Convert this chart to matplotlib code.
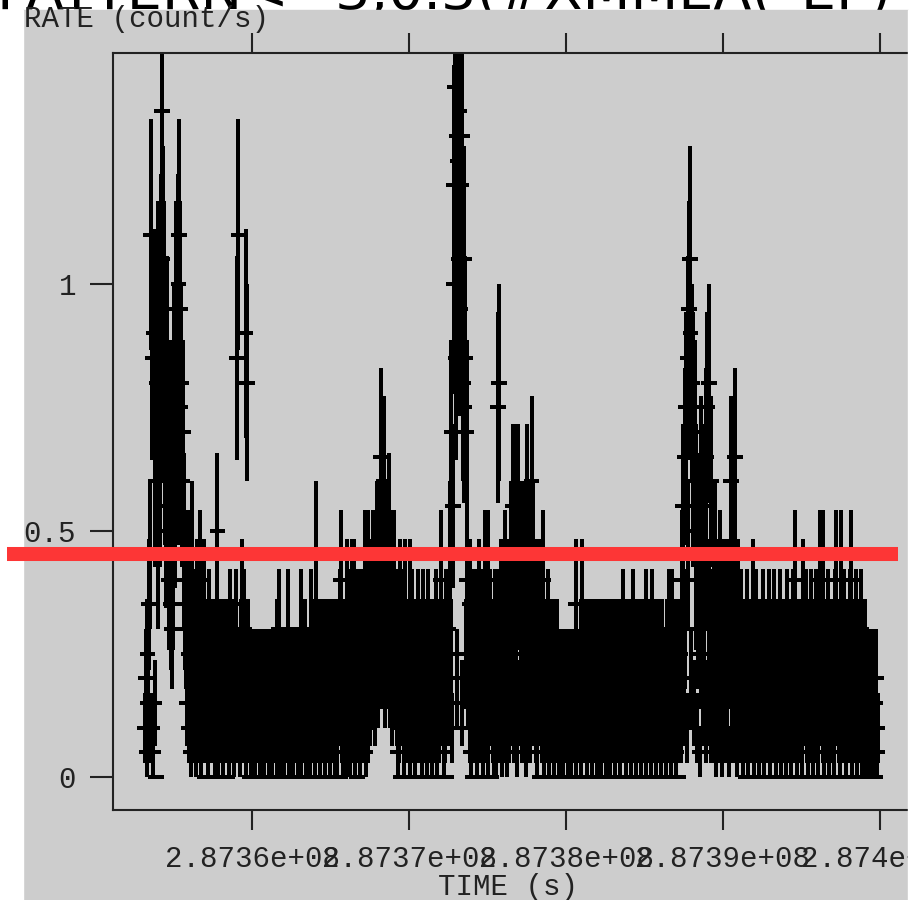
import numpy as np
import matplotlib
matplotlib.use("Agg")
import matplotlib.pyplot as plt
from matplotlib.patches import Rectangle
from matplotlib.lines import Line2D
from matplotlib.ticker import FixedLocator, FuncFormatter

# light curve: counts per 20 s frame, one entry per plotted bin (46 s apart)
t_first = 287353200.0      # s, centre of the first bin
t_step = 46.0              # s between plotted bins
half_width = 500.0         # s, horizontal bar half-length
frame_time = 20.0          # s, so one count = 0.05 count/s

flare_a = [2, 4, 1, 5, 3, 7, 2, 9, 22, 2, 17, 1, 18, 3, 12, 0,
           16, 9, 19, 14, 17, 12, 20, 27, 21, 16, 19, 13, 15, 10, 17, 12,
           11, 8, 14, 7, 9, 6, 12, 8, 16, 11, 19, 14, 17, 13, 20, 22,
           19, 15, 16, 12, 14, 9, 10, 7, 8]
quiet_a = [6, 3, 7, 2, 5, 8, 1, 4, 9, 3, 6, 2, 5, 1, 7, 4,
           2, 5, 3, 8, 1, 4, 6, 2, 7, 3, 0, 5, 2, 4, 1, 6,
           3, 5, 2, 4, 0, 3, 5, 1, 4, 2, 5, 10, 1, 3, 4, 0,
           5, 2, 4, 1, 3, 5, 2, 4, 0, 3, 5, 1, 4, 6, 2, 3]
flare_b = [2, 5, 1, 4, 3, 6, 17, 2, 22, 4, 1, 5, 3, 7, 2, 4,
           6, 3, 18, 1, 16, 5, 2, 4, 0]
quiet_b = [1, 4, 2, 3, 0, 4, 1, 3, 2, 4, 0, 2, 4, 1, 3, 2,
           4, 0, 3, 1, 4, 2, 0, 3, 4, 1, 2, 4, 0, 3, 1, 4,
           2, 3, 0, 4, 1, 5, 2, 6, 1, 3, 4, 0, 2, 4, 1, 3,
           0, 4, 2, 5, 6, 1, 3, 4, 0, 2, 4, 1, 3, 0, 4, 2,
           3, 1, 4, 0, 2, 6, 1, 4, 3, 0, 2, 5, 1, 3, 4, 0,
           2, 4, 1, 6, 3, 0, 4, 2, 5, 1, 9, 3, 0, 4, 2, 5,
           1, 3, 4, 0, 5, 2, 4, 1, 3, 5, 0, 4, 2, 5, 1, 3,
           4, 0, 5, 2, 4, 1]
quiet_c = [2, 5, 1, 4, 3, 6, 0, 8, 2, 5, 1, 4, 3, 5, 1, 7,
           2, 4, 5, 1, 3, 6, 7, 2, 4, 7, 1, 5, 3, 0, 4, 6,
           2, 5, 1, 4, 6, 3, 2, 5, 8, 1, 4, 6, 8, 2, 5, 3]
bump_a = [5, 7, 4, 6, 8, 5, 3, 7, 6, 9, 4, 8, 5, 7, 13, 6,
          9, 5, 12, 7, 4, 8, 6, 9, 5, 10, 7, 4, 8, 6, 3, 7,
          5, 8, 4, 6, 3]
quiet_d = [3, 1, 5, 2, 7, 0, 4, 3, 6, 1, 4, 7, 2, 5, 0, 3,
           4, 7, 1, 5, 2, 6, 0, 3, 4, 1, 5, 2, 6, 3, 0, 4,
           2, 5, 1, 6, 3, 0, 4, 2, 5, 1, 3, 6, 0, 4, 2, 5,
           1, 3, 4, 0, 5, 2, 6, 1, 3, 4, 2, 5, 8, 0, 3, 5,
           1, 4, 2, 6, 0, 3, 5]
flare_c = [6, 3, 9, 5, 14, 2, 11, 24, 20, 28, 17, 26, 4, 25, 21, 27,
           19, 24, 3, 26, 16, 21, 15, 17, 5, 14, 8, 4]
quiet_e = [5, 2, 7, 1, 4, 6, 0, 3, 5, 2, 6, 1, 4, 3, 7, 0,
           5, 2, 4, 6, 1, 3, 5, 8, 2, 4, 8, 1, 5, 3, 6, 0,
           4, 2, 5, 1, 6]
bump_b = [4, 1, 6, 15, 2, 16, 5, 3, 7, 1, 4, 6, 2, 8, 3, 5,
          1, 7, 4, 2, 6, 9, 3, 8, 11, 2, 7, 4, 11, 6, 1, 11,
          8, 3, 9, 5, 2, 8, 6, 9, 4, 7, 1, 11, 8, 3, 9, 6,
          2, 8, 12, 5, 9, 3, 7]
quiet_f = [5, 2, 6, 1, 4, 7, 3, 0, 5, 2, 6, 8, 1, 4, 3, 5,
           0, 2, 6, 1, 4, 5, 2, 3, 0, 5, 1, 4, 2, 3, 5, 0,
           4, 1, 3]
quiet_g = [2, 4, 0, 3, 1, 4, 2, 0, 3, 4, 1, 2, 4, 0, 3, 1,
           4, 2, 0, 3, 4, 7, 1, 3, 2, 4, 0, 3, 5, 1, 7, 2,
           4, 0, 3, 5, 1, 2, 4, 0, 3, 5, 2, 1, 4, 3, 0, 5,
           2, 4, 1, 3, 5, 0, 2, 4, 1, 5, 3, 0, 4, 2, 5, 1,
           3, 4, 0, 5, 2, 1, 4, 3, 5, 0, 2, 4, 1, 5, 3, 0,
           4, 2, 5, 1, 3, 0, 4, 6, 2, 5, 1, 3, 4, 0, 5, 2,
           3, 1, 4, 5, 0, 6, 2, 4, 1, 3, 5, 0, 4, 2, 5, 1,
           3, 4, 0, 5, 2, 4, 1, 6, 3, 0, 4, 5, 2, 1, 6, 3,
           0, 4, 2, 5, 1, 3, 4, 0, 5, 2, 3, 1, 4, 5, 0, 3,
           2, 4, 1, 5, 3, 0, 6, 2, 4, 1, 6, 3, 0, 5, 2, 4,
           1, 3, 5, 0, 4, 2]
flare_d = [5, 2, 8, 4, 11, 3, 13, 6, 15, 2, 17, 9, 19, 21, 18, 4,
           16, 12, 15, 3, 14, 8, 11, 2, 10, 6, 9, 1, 12, 5, 8, 3,
           11, 4, 9, 2, 13, 15, 3, 7, 16, 5, 12, 2]
bump_c = [6, 2, 8, 4, 9, 1, 5, 7, 3, 6, 2, 8, 4, 7, 1, 5,
          6, 3, 7, 2, 6, 4, 7, 1, 5, 7, 12, 3, 6, 2, 7, 5,
          13, 4, 6, 1, 7, 3, 5, 2, 6, 4]
quiet_h = [3, 1, 5, 2, 4, 0, 6, 3, 1, 5, 2, 4, 0, 3, 5, 7,
           1, 4, 2, 6, 0, 3, 5, 1, 4, 2, 5, 0, 3, 6, 1, 4,
           2, 5, 3, 0, 4, 6, 1, 3, 5, 2, 4, 0, 6, 3, 1, 5,
           2, 4, 0, 3, 6, 1, 5, 2, 4, 3, 0, 5, 1, 4, 6, 2,
           3, 0, 5, 1, 4, 2, 6, 3, 0, 8, 2, 4, 1, 5, 3, 0,
           4, 2, 5, 1, 7, 3, 0, 4, 6, 2, 5, 1, 3, 4, 0, 6,
           2, 5, 1, 3, 4, 0, 6, 2, 5, 1, 4, 3, 8, 0, 5, 2,
           8, 1, 4, 3, 0, 5, 2, 6, 1, 4, 3, 0, 5, 2, 4, 1,
           6, 3, 8, 0, 4, 2, 5, 1, 3, 8, 0, 4, 6, 2, 5, 1,
           3, 4, 0, 5, 2, 6, 8, 1, 3, 5, 0, 4, 2, 6, 1, 3,
           5, 0, 4, 2, 6, 1]
tail = [3, 0, 4, 2, 5, 1, 3, 4, 0, 2, 4, 1, 3, 0, 4, 2,
        1, 3, 0, 4, 1, 2]

x_ticks = [2.8736e8, 2.8737e8, 2.8738e8, 2.8739e8, 2.874e8]
y_ticks = [0, 0.5, 1]
title_text = "PATTERN<=3,0.3(#XMMEA(_EP)"

counts = np.array(flare_a + quiet_a + flare_b + quiet_b + quiet_c + bump_a
                  + quiet_d + flare_c + quiet_e + bump_b + quiet_f + quiet_g
                  + flare_d + bump_c + quiet_h + tail, dtype=float)
times = t_first + t_step * np.arange(len(counts))
rate = counts / frame_time
rate_err = np.sqrt(counts) / frame_time

W, H = 918, 900
fig = plt.figure(figsize=(W / 100, H / 100), dpi=100)
fig.patch.set_facecolor("white")

# title sits above the cropped screenshot, mostly cut off
fig.text(-3 / W, 1 - 9 / H, title_text, family="DejaVu Sans", fontsize=40,
         color="black", ha="left", va="baseline", zorder=-1)

gray = "#cdcdcd"
fig.add_artist(Rectangle((23 / W, 0), (908 - 23) / W, 890 / H,
                         transform=fig.transFigure, color=gray, zorder=0))

# axes frame: left 113 px, top 53 px, bottom 810 px; right side runs off the crop
ax = fig.add_axes([113 / W, (H - 810) / H, (940 - 113) / W, (810 - 53) / H])
ax.set_zorder(2)
ax.set_facecolor(gray)

eb = ax.errorbar(times, rate, xerr=half_width, yerr=rate_err, fmt="none",
                 ecolor="black", elinewidth=1.6, capsize=0)
for coll in eb[2]:
    coll.set_antialiased(False)

ax.set_xlim(287351146.0, 287403822.0)
ax.set_ylim(-0.0669, 1.4686)

ax.xaxis.set_major_locator(FixedLocator(x_ticks))
ax.yaxis.set_major_locator(FixedLocator(y_ticks))
ax.xaxis.set_major_formatter(FuncFormatter(lambda v, p: "%.5g" % v))
ax.yaxis.set_major_formatter(FuncFormatter(lambda v, p: "%g" % v))
ax.minorticks_off()

mono = "Liberation Mono"
ink = "#222222"
ax.tick_params(axis="x", which="major", direction="out", length=14.5, width=1.5,
               top=True, bottom=True, color=ink, pad=11,
               labelsize=21, labelcolor=ink)
ax.tick_params(axis="y", which="major", direction="out", length=16.5, width=1.5,
               left=True, right=False, color=ink, pad=10,
               labelsize=21, labelcolor=ink)
for lab in ax.get_xticklabels() + ax.get_yticklabels():
    lab.set_fontfamily(mono)
for side in ["left", "top", "bottom", "right"]:
    ax.spines[side].set_color(ink)
    ax.spines[side].set_linewidth(1.5)

fig.text(24 / W, 1 - 19 / H, "RATE (count/s)", family=mono, fontsize=21,
         color=ink, ha="left", va="center", zorder=5)
fig.text(508 / W, 1 - 887 / H, "TIME (s)", family=mono, fontsize=21,
         color=ink, ha="center", va="center", zorder=5)

# crop of the screenshot
fig.add_artist(Rectangle((908 / W, 0), 10 / W, 890 / H,
                         transform=fig.transFigure, color="white", zorder=10))
fig.add_artist(Rectangle((0, 0), 23 / W, 890 / H,
                         transform=fig.transFigure, color="white", zorder=10))

y_red = 1 - 554 / H
fig.add_artist(Line2D([7 / W, 898 / W], [y_red, y_red], transform=fig.transFigure,
                      color="#fd3636", linewidth=10.1, solid_capstyle="butt",
                      zorder=20))

fig.savefig("out.png", dpi=100)
